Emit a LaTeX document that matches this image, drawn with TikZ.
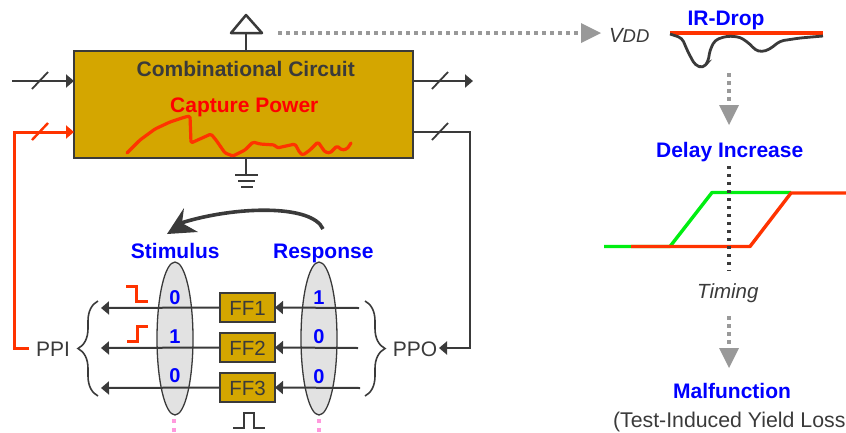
\documentclass[tikz,border=0pt]{standalone}
\usepackage{fontspec}
\setmainfont{Liberation Sans}
\usetikzlibrary{arrows.meta,decorations.pathreplacing,calc,shapes.geometric}
\definecolor{gold}{HTML}{D4A600}
\definecolor{ink}{HTML}{3A3A3A}
\definecolor{hot}{HTML}{FF3300}
\definecolor{mygray}{HTML}{999999}
\definecolor{lilac}{HTML}{E2E2E2}
\definecolor{pinkdot}{HTML}{FF99DD}
\definecolor{lime}{HTML}{00EE11}
\tikzset{
  x=1pt,y=-1pt,
  every node/.style={inner sep=0pt,outer sep=0pt,text=ink},
  wire/.style={draw=ink,line width=2pt},
  wirearrow/.style={wire,-{Triangle[length=8pt,width=13pt]}},
  redwire/.style={draw=hot,line width=3pt},
  slash/.style={draw=ink,line width=1.8pt},
  ffbox/.style={draw=ink,fill=gold,line width=2pt,minimum width=55pt,minimum height=29pt},
  fflabel/.style={font=\fontsize{20.5}{20}\selectfont,anchor=base},
  oval/.style={draw=ink,fill=lilac,line width=1.3pt,ellipse,minimum width=36pt,minimum height=153pt},
  head/.style={font=\fontsize{21}{21}\selectfont\bfseries,text=blue,anchor=base},
  bit/.style={font=\fontsize{20}{20}\selectfont\bfseries,text=blue,anchor=base},
  plain/.style={font=\fontsize{21}{21}\selectfont,anchor=base},
  slanted/.style={font=\fontsize{20.5}{20}\selectfont\itshape,anchor=base},
  graydots/.style={draw=mygray,line width=3.5pt,dash pattern=on 4pt off 4pt,
    -{Triangle[length=20pt,width=20pt,fill=mygray,line width=0pt]}},
  brc/.style={draw=ink,line width=1.6pt,decorate,decoration={brace,amplitude=20pt,aspect=0.5}},
}
\begin{document}
\begin{tikzpicture}
\useasboundingbox (0,0) rectangle (846,432);
% main block
\node[draw=ink,fill=gold,line width=2pt,minimum width=339pt,minimum height=107pt] (cc) at (243.5,104.5) {};
\node[font=\fontsize{21}{21}\selectfont\bfseries,anchor=base] (cctext) at (245.7,76) {Combinational Circuit};
\node[font=\fontsize{21}{21}\selectfont\bfseries,text=red,anchor=base] (cap) at (244.3,112.7) {Capture Power};
% power curve
\draw[hot,line width=3.2pt,line join=round,line cap=round,rounded corners=1.5pt]
 (127,153)--(140,140)--(155,129)--(170,122)--(185,117)--(190,116)--(191,143)--(211,134)--(216,140)--(225,153)--(233,156)--(245,150)--(253,142)--(260,144)--(275,145)--(277,148)--(295,144)--(300,153)--(303,155)--(310,150)--(318,142)--(325,152)--(330,153)--(337,146)--(342,150)--(347,149)--(351,143);
% supply
\coordinate (ant) at (246,33);
\draw[wire,line width=2.5pt,line join=round] (231,33)--(246,15)--(262,33)--cycle;
\draw[wire] (cc.north -| ant) -- (ant);
\coordinate (gnd) at (246,175);
\draw[wire] (cc.south -| gnd) -- (gnd);
\draw[wire,line width=2.5pt] (235,175)--(258,175) (238,181)--(255,181) (241,187)--(253,187);
% vdd
\coordinate (vs) at (278,33);
\node[slanted,anchor=base west] (vdd) at (609,42.7) {V\fontsize{18.5}{18}\selectfont DD};
\coordinate (ve) at (601,33);
\draw[graydots] (vs) -- (ve);
% side wires
\coordinate (in1) at (12,81); \coordinate (out1) at (473,81);
\draw[wirearrow] (in1) -- (in1 -| cc.west);
\draw[wirearrow] (out1 -| cc.east) -- (out1);
\draw[slash] (32,89)--(48,72);
\draw[slash] (432,89)--(448,72);
\draw[slash] (432,140)--(448,123);
% stimulus / response
\node[head] (stim) at (175.3,258.3) {Stimulus};
\node[head] (resp) at (323.3,258.3) {Response};
\coordinate (cs) at (323,229); \coordinate (ce) at (167,234);
\draw[ink,line width=3.6pt] (cs) .. controls (312,204) and (235,206) .. (181,223);
\fill[ink] (ce) -- (184,208) -- (182,223) -- (198,232) -- cycle;
% ovals
\node[oval] (ol) at (175,338.5) {};
\node[oval] (or) at (319,338.5) {};
% flip-flops
\node[ffbox] (ff1) at (247.5,307.5) {};
\node[ffbox] (ff2) at (247.5,347.5) {};
\node[ffbox] (ff3) at (247.5,387.5) {};
\node[fflabel] (ft1) at (247.5,315) {FF1};
\node[fflabel] (ft2) at (247.5,355) {FF2};
\node[fflabel] (ft3) at (247.5,395) {FF3};
% chain wires
\coordinate (l1) at (101,308); \coordinate (r1) at (359,308);
\coordinate (l2) at (101,348); \coordinate (r2) at (358,348);
\coordinate (l3) at (101,388); \coordinate (r3) at (360,388);
\foreach \n in {1,2,3}{
  \draw[wirearrow] (ff\n.west) -- (l\n);
  \draw[wirearrow] (r\n) -- (ff\n.east);
}
% bits
\node[bit] (b1) at (175,304) {0};
\node[bit] (b2) at (175,343) {1};
\node[bit] (b3) at (175,382.7) {0};
\node[bit] (b4) at (319,304) {1};
\node[bit] (b5) at (319,343) {0};
\node[bit] (b6) at (319,383) {0};
% braces
\coordinate (bl1) at (98,396); \coordinate (bl2) at (98,301);
\coordinate (br1) at (365,301); \coordinate (br2) at (365,396);
\draw[brc] (bl1) -- (bl2);
\draw[brc] (br1) -- (br2);
% PPI / PPO
\node[plain] (ppi) at (53,356.7) {PPI};
\node[plain] (ppo) at (415,356.7) {PPO};
\coordinate (redin) at (14,132); \coordinate (ppoc) at (470,132);
\draw[hot,line width=3pt,-{Triangle[length=8pt,width=13pt]}] (29,348) -| (redin) -- (redin -| cc.west);
\draw[draw=hot,line width=2.4pt] (32,140)--(48,123);
\coordinate (ppoe) at (470,348); \coordinate (ppot) at (439,348);
\draw[wire,-{Triangle[length=8pt,width=13pt]}] (cc.east |- ppoc) -- (ppoc) -- (ppoe) -- (ppot);
% waves
\draw[redwire] (126,286)--(136,286)--(136,301)--(148,301);
\draw[redwire] (127,341)--(137,341)--(137,326)--(148,326);
\draw[ink,line width=2pt] (233,428)--(244,428)--(244,413)--(254,413)--(254,428)--(265,428);
% pink dots
\coordinate (pl) at (174,432); \coordinate (pr) at (319,432);
\coordinate (pl0) at (174,419); \coordinate (pr0) at (319,419);
\draw[pinkdot,line width=4.5pt,dash pattern=on 4pt off 5pt] (pl0) -- (pl);
\draw[pinkdot,line width=4.5pt,dash pattern=on 4pt off 5pt] (pr0) -- (pr);
% right column
\node[head] (ir) at (726,25) {IR-Drop};
\draw[hot,line width=3.2pt] (670,33)--(823,33);
\draw[ink,line width=2.8pt,rounded corners=4pt] (670,34)--(682,38)--(688,52)--(695,65)--(703,68)--(708,62)--(710,50)--(715,40)--(727,36)--(740,37)--(750,44)--(755,50)--(762,52)--(770,49)--(780,41)--(800,38)--(823,36);
\coordinate (a1) at (729,73); \coordinate (a2) at (729,125);
\draw[graydots] (a1) -- (a2);
\node[head] (delay) at (729.7,157) {Delay Increase};
\draw[lime,line width=3.4pt,line join=round] (604,246.5)--(670,246.5)--(712,192.5)--(791,192.5);
\draw[hot,line width=3.4pt,line join=round] (631,246.5)--(750,246.5)--(791,193)--(846,193);
\coordinate (t1) at (729,166); \coordinate (t2) at (729,271);
\draw[ink,line width=3.4pt,dash pattern=on 3pt off 5pt] (t1) -- (t2);
\node[slanted] (timing) at (727.8,298) {Timing};
\coordinate (a3) at (729,316); \coordinate (a4) at (729,368);
\draw[graydots] (a3) -- (a4);
\node[head] (mal) at (732,398) {Malfunction};
\node[plain,anchor=base west,font=\fontsize{21.3}{21}\selectfont] (til) at (613,427) {(Test-Induced Yield Loss};
\end{tikzpicture}
\end{document}
